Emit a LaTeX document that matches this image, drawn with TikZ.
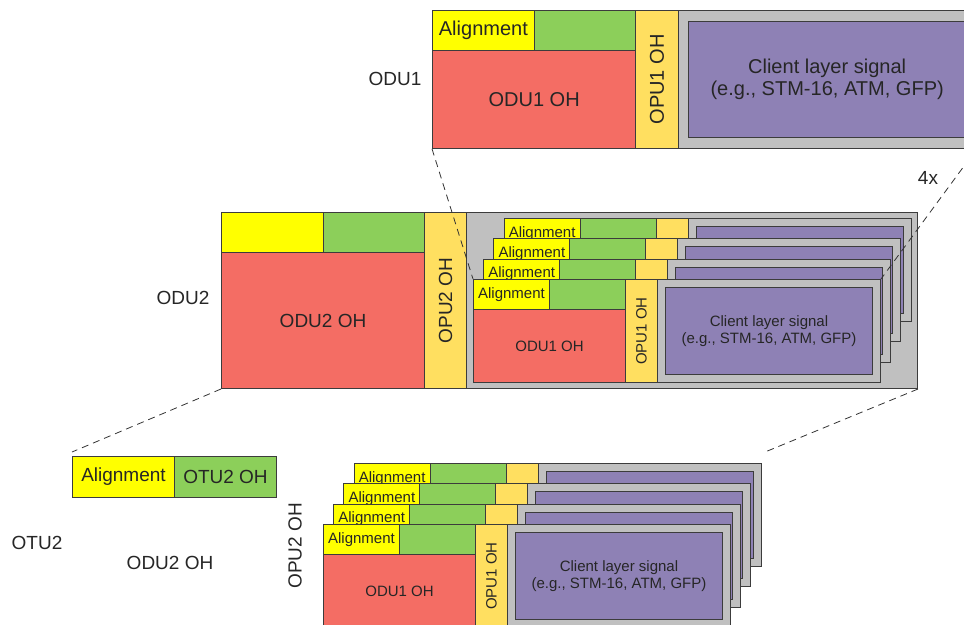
\documentclass[tikz,border=0pt]{standalone}
\usepackage{fontspec}
\setmainfont{Liberation Sans}
\usetikzlibrary{positioning}
\definecolor{alnyellow}{HTML}{FFFF00}
\definecolor{ohgreen}{HTML}{8CCF5A}
\definecolor{ohred}{HTML}{F46D64}
\definecolor{opuyellow}{HTML}{FFDF60}
\definecolor{paygrey}{HTML}{C0C0C0}
\definecolor{clientpurple}{HTML}{8E81B5}
\definecolor{edgegrey}{HTML}{3C3C3C}
\tikzset{
    cell/.style={draw=edgegrey, line width=1pt, rectangle, inner sep=0pt, anchor=north west, text=black!85},
    smalltext/.style={font=\fontsize{15}{17}\selectfont, text=black!85},
    bigtext/.style={font=\fontsize{19}{22}\selectfont, text=black!85},
    zoomline/.style={draw=black!80, line width=0.8pt, dash pattern=on 7pt off 5pt}
}
% one ODU1 frame: name, x, y, scope options, labels (1) or only alignment (0)
\newcommand{\oduunit}[5]{%
  \begin{scope}[shift={(#2,#3)}, #4]
    \node[cell, smalltext, fill=alnyellow, minimum width=76, minimum height=30] (#1-aln) at (0,0) {Alignment};
    \node[cell, fill=ohgreen, minimum width=76, minimum height=30] (#1-fec) at (76,0) {};
    \node[cell, smalltext, fill=ohred, minimum width=152, minimum height=73] (#1-oh) at (0,30) {\ifnum#5=1 ODU1 OH\fi};
    \node[cell, fill=opuyellow, minimum width=32, minimum height=103] (#1-opu) at (152,0) {};
    \node[cell, fill=paygrey, minimum width=223, minimum height=103] (#1-pay) at (184,0) {};
    \node[cell, smalltext, fill=clientpurple, minimum width=207, minimum height=87, align=center] (#1-client) at (192,8) {\ifnum#5=1 Client layer signal\\(e.g., STM-16, ATM, GFP)\fi};
    \ifnum#5=1 \node[smalltext, rotate=90] (#1-opulabel) at (#1-opu.center) {OPU1 OH};\fi
  \end{scope}}

\begin{document}
\begin{tikzpicture}[x=1pt, y=-1pt]
    \useasboundingbox (0,0) rectangle (964,624);
    \clip (0,0) rectangle (964,624);

    % ODU1 (enlarged)
    \oduunit{top}{432}{10}{scale=1.335, transform shape}{1}
    \node[bigtext] (odu1-label) at (395,79) {ODU1};
    \node[bigtext] (mult-label) at (928,178) {4x};

    % ODU2
    \node[cell, fill=alnyellow, minimum width=102, minimum height=40] (odu2-aln) at (221,212) {};
    \node[cell, fill=ohgreen, minimum width=101, minimum height=40] (odu2-fec) at (323,212) {};
    \node[cell, bigtext, fill=ohred, minimum width=203, minimum height=136] (odu2-oh) at (221,252) {ODU2 OH};
    \node[cell, fill=opuyellow, minimum width=42, minimum height=176] (odu2-opu) at (424,212) {};
    \node[bigtext, rotate=90] (odu2-opulabel) at (odu2-opu.center) {OPU2 OH};
    \node[cell, fill=paygrey, minimum width=451, minimum height=176] (odu2-pay) at (466,212) {};
    \node[bigtext] (odu2-label) at (183,298) {ODU2};
    \oduunit{odu2s4}{503.6}{217.8}{}{0}
    \oduunit{odu2s3}{493.4}{238.2}{}{0}
    \oduunit{odu2s2}{483.2}{258.6}{}{0}
    \oduunit{odu2s1}{473}{279}{}{1}

    % OTU2
    \node[cell, bigtext, fill=alnyellow, minimum width=102, minimum height=41] (otu2-aln) at (72,456) {Alignment};
    \node[cell, bigtext, fill=ohgreen, minimum width=102, minimum height=41] (otu2-oh) at (174,456) {OTU2 OH};
    \node[bigtext] (otu2-label) at (37,543) {OTU2};
    \node[bigtext] (otu2-odulabel) at (170,563) {ODU2 OH};
    \node[bigtext, rotate=90] (otu2-opulabel) at (295,546) {OPU2 OH};
    \coordinate (otu2-nw) at (72,452);
    \coordinate (otu2-ne) at (765,452);
    \oduunit{otu2s4}{353.6}{462.8}{}{0}
    \oduunit{otu2s3}{343.4}{483.2}{}{0}
    \oduunit{otu2s2}{333.2}{503.6}{}{0}
    \oduunit{otu2s1}{323}{524}{}{1}

    % zoom lines
    \draw[zoomline] (top-oh.south west) -- (odu2s1-aln.north west);
    \draw[zoomline] (top-pay.south east) -- (odu2s1-pay.north east);
    \draw[zoomline] (odu2-oh.south west) -- (otu2-nw);
    \draw[zoomline] (odu2-pay.south east) -- (otu2-ne);
\end{tikzpicture}
\end{document}
